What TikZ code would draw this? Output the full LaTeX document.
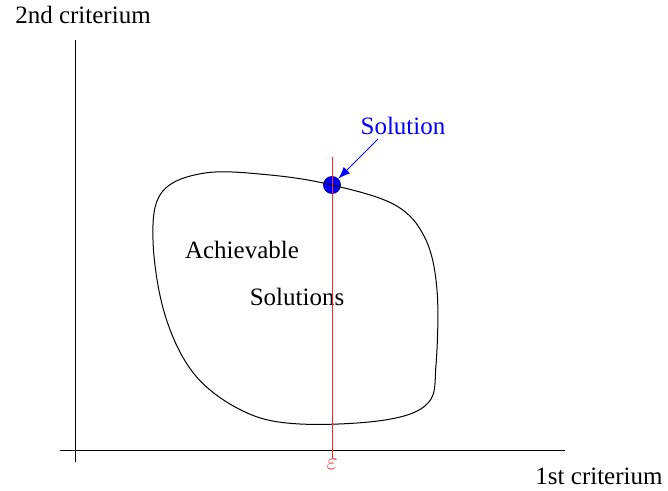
\documentclass[tikz,border=0pt]{standalone}
\usepackage{fontspec}
\setmainfont{Liberation Serif}
\usepackage{tikz}
\usetikzlibrary{arrows.meta,positioning}

\begin{document}
\begin{tikzpicture}[
    x=0.5pt, y=-0.5pt,
    lbl/.style={font=\fontsize{12.5}{15}\selectfont, inner sep=0pt},
    axis/.style={line width=0.5pt, black},
    eps/.style={line width=0.5pt, red!85},
    pointer/.style={-{Latex[length=6pt,width=4.5pt]}, blue, line width=0.5pt}
]
    \useasboundingbox (0,0) rectangle (668,491);

    % axes
    \coordinate (ytop) at (75,40);
    \coordinate (ybot) at (75,462);
    \coordinate (xleft) at (60,450);
    \coordinate (xright) at (565,450);
    \draw[axis] (ybot) -- (ytop);
    \draw[axis] (xleft) -- (xright);
    \node[lbl] (ylab) at (83,15) {2nd criterium};
    \node[lbl] (xlab) at (599,476) {1st criterium};

    % optimum
    \node[circle, fill=blue, draw=blue!60!black, minimum size=8.5pt, inner sep=0pt] (opt) at (332,185) {};

    % achievable set
    \draw[line width=0.5pt] plot[smooth cycle, tension=0.6] coordinates {
        (332,185) (395,205) (425,238) (437,290) (436,365) (428,403)
        (385,420) (300,424) (245,412) (195,375) (165,315) (153,240)
        (162,192) (205,173) (270,175)};
    \node[lbl] (ach) at (242,250) {Achievable};
    \node[lbl] (sols) at (297,297) {Solutions};

    % epsilon constraint
    \coordinate (etop) at (332,157);
    \coordinate (ebot) at (332,458);
    \draw[eps] (etop) -- (ebot);
    \node[lbl, text=red!85, font=\fontsize{13}{15}\selectfont] (elab) at (332,464) {$\varepsilon$};

    \node[lbl, text=blue] (solab) at (403,126) {Solution};
    \draw[pointer] (378,139) -- (opt.north east);
\end{tikzpicture}
\end{document}
